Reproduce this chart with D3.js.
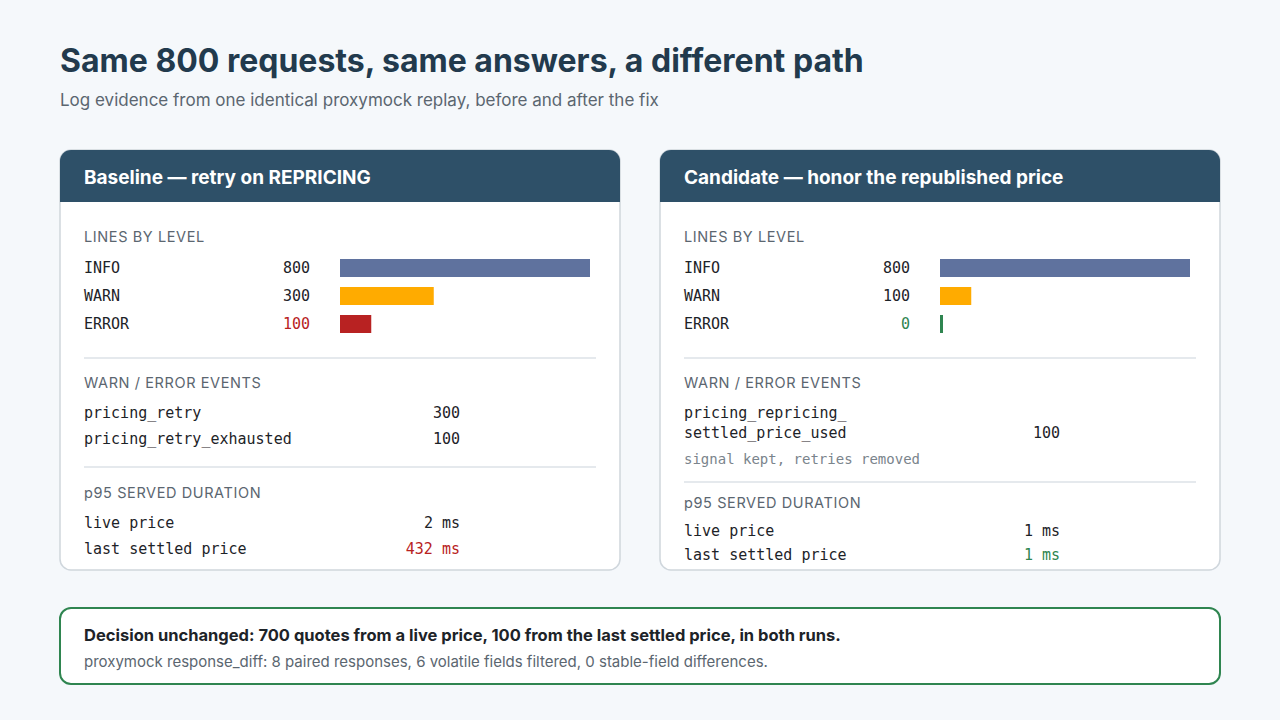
<!DOCTYPE html>
<html>
<head>
<meta charset="UTF-8" />
<style>
  body { margin: 0; background: #f5f8fb; }
  svg { display: block; }
  .sans { font-family: Inter, "Noto Sans", sans-serif; }
  .mono { font-family: "DejaVu Sans Mono", "Liberation Mono", monospace; }
</style>
</head>
<body>
<svg></svg>
<script src="https://d3js.org/d3.v7.min.js"></script>
<script>
  // data
  let panelTitles = ["Baseline — retry on REPRICING", "Candidate — honor the republished price"];
  let levels = ["INFO", "WARN", "ERROR"];
  let levelCounts = [[800, 300, 100], [800, 100, 0]];
  let levelColors = ["#5f729e", "#ffab00", "#b82222"];
  let events = [
    [["pricing_retry"], 300, ["pricing_retry_exhausted"], 100],
    [["pricing_repricing_", "settled_price_used"], 100]
  ];
  let p95Labels = ["live price", "last settled price"];
  let p95Values = [[2, 432], [1, 1]];

  let width = 1280, height = 720;
  let svg = d3.select("svg").attr("width", width).attr("height", height);
  let dark = "#223a4d", gray = "#5b6670", red = "#b82222", green = "#2f8550";

  svg.append("text").attr("class", "sans").attr("x", 60).attr("y", 72)
    .attr("font-size", 32).attr("font-weight", 700).attr("fill", dark)
    .text("Same 800 requests, same answers, a different path");
  svg.append("text").attr("class", "sans").attr("x", 60).attr("y", 106)
    .attr("font-size", 17).attr("fill", gray)
    .text("Log evidence from one identical proxymock replay, before and after the fix");

  let x = d3.scaleLinear().domain([0, 800]).range([0, 250]);

  function label(g, y, t) {
    g.append("text").attr("class", "sans").attr("x", 24).attr("y", y)
      .attr("font-size", 14.5).attr("letter-spacing", 0.6).attr("fill", gray).text(t);
  }
  function mono(g, xx, y, t, fill, anchor) {
    g.append("text").attr("class", "mono").attr("x", xx).attr("y", y)
      .attr("font-size", 15).attr("fill", fill || "#1d2328")
      .attr("text-anchor", anchor || "start").text(t);
  }
  function rule(g, y) {
    g.append("line").attr("x1", 24).attr("x2", 536).attr("y1", y).attr("y2", y)
      .attr("stroke", "#dde2e7").attr("stroke-width", 1.5);
  }

  panelTitles.forEach((title, p) => {
    let g = svg.append("g").attr("transform", "translate(" + (60 + p * 600) + ",150)");
    g.append("rect").attr("x", 0).attr("y", 0).attr("width", 560).attr("height", 420)
      .attr("rx", 11).attr("fill", "#fff").attr("stroke", "#cfd6dc").attr("stroke-width", 1.5);
    g.append("path").attr("d", "M0,52 V11 A11,11 0 0 1 11,0 H549 A11,11 0 0 1 560,11 V52 Z")
      .attr("fill", "#2e5068");
    g.append("text").attr("class", "sans").attr("x", 24).attr("y", 34)
      .attr("font-size", 19).attr("font-weight", 700).attr("fill", "#fff").text(title);

    label(g, 92, "LINES BY LEVEL");
    levels.forEach((lv, i) => {
      let y = 118 + i * 28;
      let v = levelCounts[p][i];
      mono(g, 24, y + 5, lv);
      let c = "#1d2328";
      if (lv == "ERROR") c = v > 0 ? red : green;
      mono(g, 250, y + 5, v, c, "end");
      g.append("rect").attr("x", 280).attr("y", y - 9).attr("height", 18)
        .attr("width", Math.max(x(v), 3))
        .attr("fill", v > 0 ? levelColors[i] : green);
    });
    rule(g, 208);
    label(g, 238, "WARN / ERROR EVENTS");

    let y0;
    if (p == 0) {
      mono(g, 24, 268, events[0][0][0]); mono(g, 400, 268, events[0][1], null, "end");
      mono(g, 24, 294, events[0][2][0]); mono(g, 400, 294, events[0][3], null, "end");
      rule(g, 317);
      y0 = 348;
    } else {
      mono(g, 24, 268, events[1][0][0]);
      mono(g, 24, 288, events[1][0][1]); mono(g, 400, 288, events[1][1], null, "end");
      g.append("text").attr("class", "mono").attr("x", 24).attr("y", 314)
        .attr("font-size", 14).attr("fill", "#7a848c").text("signal kept, retries removed");
      rule(g, 332);
      y0 = 358;
    }
    label(g, y0, "p95 SERVED DURATION");
    p95Labels.forEach((l, i) => {
      let y = y0 + (p == 0 ? 30 : 28) + i * (p == 0 ? 26 : 24);
      mono(g, 24, y, l);
      let c = i == 1 ? (p == 0 ? red : green) : null;
      mono(g, 400, y, p95Values[p][i] + " ms", c, "end");
    });
  });

  let b = svg.append("g").attr("transform", "translate(60,608)");
  b.append("rect").attr("width", 1160).attr("height", 76).attr("rx", 11)
    .attr("fill", "#fff").attr("stroke", green).attr("stroke-width", 2);
  b.append("text").attr("class", "sans").attr("x", 24).attr("y", 33)
    .attr("font-size", 16.5).attr("font-weight", 700).attr("fill", "#1d2328")
    .text("Decision unchanged: 700 quotes from a live price, 100 from the last settled price, in both runs.");
  b.append("text").attr("class", "sans").attr("x", 24).attr("y", 59)
    .attr("font-size", 15).attr("fill", gray)
    .text("proxymock response_diff: 8 paired responses, 6 volatile fields filtered, 0 stable-field differences.");
</script>
</body>
</html>
